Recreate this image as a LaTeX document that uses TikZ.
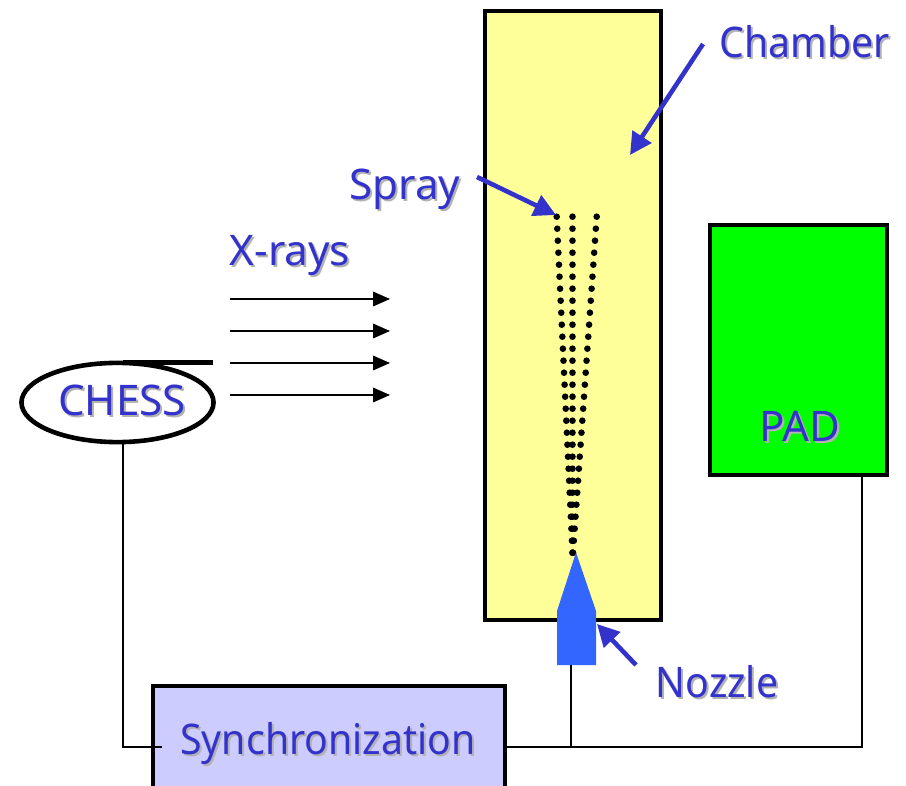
\documentclass[tikz,border=0pt]{standalone}
\usepackage{fontspec}
\setmainfont{Noto Sans}
\newfontfamily\narrowfont[FakeStretch=0.93]{Noto Sans}
\usepackage{xcolor}
\usetikzlibrary{arrows.meta,calc,shapes}
\definecolor{labelblue}{HTML}{3333CC}
\definecolor{chamberyellow}{HTML}{FFFF99}
\definecolor{syncblue}{HTML}{CCCCFF}
\definecolor{nozzleblue}{HTML}{3366FF}
\tikzstyle{heavybox}=[draw=black, line width=0.115cm, inner sep=0pt]
\tikzstyle{wire}=[draw=black, line width=0.04cm]
\tikzstyle{beam}=[draw=black, line width=0.04cm, -{Triangle[length=0.42cm,width=0.36cm]}]
\tikzstyle{pointer}=[draw=labelblue, line width=0.115cm, -{Triangle[length=0.55cm,width=0.55cm]}]
\tikzstyle{labeltext}=[font=\fontsize{30}{36}\selectfont, inner sep=0pt]
\newcommand{\shadowlabel}[3]{
	\node[labeltext, text=black!30] (#1shadow) at ($#2+(2,2)$) {#3};
	\node[labeltext, text=labelblue] (#1) at #2 {#3};
}
\begin{document}
\begin{tikzpicture}[x=0.025cm,y=-0.025cm]
	\useasboundingbox (0,0) rectangle (906,786);
	\node[heavybox, fill=chamberyellow, minimum width=4.39cm, minimum height=15.215cm] (chamber) at (573,315.5) {};
	\node[heavybox, fill=green, minimum width=4.415cm, minimum height=6.24cm] (pad) at (798.5,350) {};
	\node[heavybox, fill=syncblue, minimum width=8.79cm, minimum height=3.04cm] (sync) at (329,747) {};
	\node[heavybox, ellipse, minimum width=4.8cm, minimum height=1.98cm] (chess) at (117.5,402.5) {};
	\draw[line width=0.125cm] (123,363) -- (213,363);

	\foreach \i in {0,...,28}{
		\pgfmathsetmacro{\rowy}{216.7+12*\i}
		\pgfmathsetmacro{\leftx}{556.7+15.8*\i/28}
		\pgfmathsetmacro{\rightx}{596.7-23.7*\i/28}
		\fill (\leftx,\rowy) circle (3.3);
		\fill (572.5,\rowy) circle (3.3);
		\fill (\rightx,\rowy) circle (3.3);
	}
	\fill[nozzleblue] (557,665) -- (557,611) -- (576,552.5) -- (596,611) -- (596,665) -- cycle;

	\coordinate (chessout) at (123,443);
	\coordinate (nozzleout) at (571,665);
	\coordinate (padout) at (862,476);
	\coordinate (syncin) at (162,747);
	\draw[wire] (chessout) |- (syncin);
	\draw[wire] (sync.east) -| (padout);
	\draw[wire] (nozzleout) -- (nozzleout |- sync.east);

	\foreach \y in {299,331,363,395}{
		\coordinate (beamstart) at (230,\y);
		\coordinate (beamend) at (390,\y);
		\draw[beam] (beamstart) -- (beamend);
	}

	\shadowlabel{chamberlabel}{(805,42)}{\narrowfont Chamber}
	\shadowlabel{spraylabel}{(405,189)}{Spray}
	\shadowlabel{xrayslabel}{(290,256)}{X-rays}
	\shadowlabel{chesslabel}{(122,400)}{CHESS}
	\shadowlabel{padlabel}{(800,426)}{PAD}
	\shadowlabel{nozzlelabel}{(717,682)}{\narrowfont Nozzle}
	\shadowlabel{synclabel}{(328,744)}{\narrowfont Synchronization}

	\coordinate (chambertail) at (703,44);
	\coordinate (chambertip) at (630,155);
	\coordinate (spraytail) at (477,177);
	\coordinate (spraytip) at (556,215);
	\coordinate (nozzletail) at (636,665);
	\coordinate (nozzletip) at (597,624);
	\draw[pointer] (chambertail) -- (chambertip);
	\draw[pointer] (spraytail) -- (spraytip);
	\draw[pointer] (nozzletail) -- (nozzletip);
\end{tikzpicture}
\end{document}
